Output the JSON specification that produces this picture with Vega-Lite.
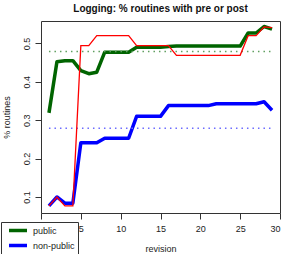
{
  "$schema": "https://vega.github.io/schema/vega-lite/v6.json",
  "width": 239,
  "height": 192,
  "autosize": {"type": "none"},
  "padding": {"left": 41, "top": 21, "right": 14, "bottom": 41},
  "background": "white",
  "config": {
    "font": "Liberation Sans",
    "view": {"stroke": "#333", "strokeWidth": 1},
    "axis": {"grid": false, "domain": false, "tickColor": "#333", "tickSize": 6, "labelFont": "Liberation Sans", "labelFontSize": 9, "labelColor": "#222", "titleFont": "Liberation Sans", "titleFontSize": 9, "titleFontWeight": "normal", "titleColor": "#222"}
  },
  "title": {"text": "Logging: % routines with pre or post", "fontSize": 10, "fontWeight": "bold", "font": "Liberation Sans", "anchor": "middle", "offset": 7, "color": "#111"},
  "datasets": {
    "lines": [
      {"rev": 1, "series": "public", "v": 0.319},
      {"rev": 2, "series": "public", "v": 0.452},
      {"rev": 3, "series": "public", "v": 0.455},
      {"rev": 4, "series": "public", "v": 0.455},
      {"rev": 5, "series": "public", "v": 0.429},
      {"rev": 6, "series": "public", "v": 0.421},
      {"rev": 7, "series": "public", "v": 0.425},
      {"rev": 8, "series": "public", "v": 0.477},
      {"rev": 9, "series": "public", "v": 0.477},
      {"rev": 10, "series": "public", "v": 0.477},
      {"rev": 11, "series": "public", "v": 0.477},
      {"rev": 12, "series": "public", "v": 0.490},
      {"rev": 13, "series": "public", "v": 0.490},
      {"rev": 14, "series": "public", "v": 0.490},
      {"rev": 15, "series": "public", "v": 0.490},
      {"rev": 16, "series": "public", "v": 0.492},
      {"rev": 17, "series": "public", "v": 0.493},
      {"rev": 18, "series": "public", "v": 0.493},
      {"rev": 19, "series": "public", "v": 0.493},
      {"rev": 20, "series": "public", "v": 0.493},
      {"rev": 21, "series": "public", "v": 0.493},
      {"rev": 22, "series": "public", "v": 0.493},
      {"rev": 23, "series": "public", "v": 0.493},
      {"rev": 24, "series": "public", "v": 0.493},
      {"rev": 25, "series": "public", "v": 0.493},
      {"rev": 26, "series": "public", "v": 0.527},
      {"rev": 27, "series": "public", "v": 0.527},
      {"rev": 28, "series": "public", "v": 0.544},
      {"rev": 29, "series": "public", "v": 0.537},
      {"rev": 1, "series": "non-public", "v": 0.077},
      {"rev": 2, "series": "non-public", "v": 0.100},
      {"rev": 3, "series": "non-public", "v": 0.084},
      {"rev": 4, "series": "non-public", "v": 0.084},
      {"rev": 5, "series": "non-public", "v": 0.241},
      {"rev": 6, "series": "non-public", "v": 0.241},
      {"rev": 7, "series": "non-public", "v": 0.241},
      {"rev": 8, "series": "non-public", "v": 0.253},
      {"rev": 9, "series": "non-public", "v": 0.253},
      {"rev": 10, "series": "non-public", "v": 0.253},
      {"rev": 11, "series": "non-public", "v": 0.253},
      {"rev": 12, "series": "non-public", "v": 0.310},
      {"rev": 13, "series": "non-public", "v": 0.310},
      {"rev": 14, "series": "non-public", "v": 0.310},
      {"rev": 15, "series": "non-public", "v": 0.310},
      {"rev": 16, "series": "non-public", "v": 0.338},
      {"rev": 17, "series": "non-public", "v": 0.338},
      {"rev": 18, "series": "non-public", "v": 0.338},
      {"rev": 19, "series": "non-public", "v": 0.338},
      {"rev": 20, "series": "non-public", "v": 0.338},
      {"rev": 21, "series": "non-public", "v": 0.338},
      {"rev": 22, "series": "non-public", "v": 0.343},
      {"rev": 23, "series": "non-public", "v": 0.343},
      {"rev": 24, "series": "non-public", "v": 0.343},
      {"rev": 25, "series": "non-public", "v": 0.343},
      {"rev": 26, "series": "non-public", "v": 0.343},
      {"rev": 27, "series": "non-public", "v": 0.343},
      {"rev": 28, "series": "non-public", "v": 0.348},
      {"rev": 29, "series": "non-public", "v": 0.326}
    ],
    "red": [
      {"rev": 1, "v": 0.077},
      {"rev": 2, "v": 0.100},
      {"rev": 3, "v": 0.077},
      {"rev": 4, "v": 0.077},
      {"rev": 5, "v": 0.494},
      {"rev": 6, "v": 0.494},
      {"rev": 7, "v": 0.520},
      {"rev": 8, "v": 0.520},
      {"rev": 9, "v": 0.520},
      {"rev": 10, "v": 0.520},
      {"rev": 11, "v": 0.520},
      {"rev": 12, "v": 0.494},
      {"rev": 13, "v": 0.494},
      {"rev": 14, "v": 0.494},
      {"rev": 15, "v": 0.494},
      {"rev": 16, "v": 0.494},
      {"rev": 17, "v": 0.469},
      {"rev": 18, "v": 0.469},
      {"rev": 19, "v": 0.469},
      {"rev": 20, "v": 0.469},
      {"rev": 21, "v": 0.469},
      {"rev": 22, "v": 0.469},
      {"rev": 23, "v": 0.469},
      {"rev": 24, "v": 0.469},
      {"rev": 25, "v": 0.469},
      {"rev": 26, "v": 0.520},
      {"rev": 27, "v": 0.520},
      {"rev": 28, "v": 0.543},
      {"rev": 29, "v": 0.541}
    ],
    "means": [
      {"series": "public", "v": 0.479, "rev": 1, "rev2": 29},
      {"series": "non-public", "v": 0.279, "rev": 1, "rev2": 29}
    ]
  },
  "encoding": {
    "x": {"field": "rev", "type": "quantitative", "scale": {"domain": [0, 30], "nice": false, "zero": false}, "axis": {"title": "revision", "values": [0, 5, 10, 15, 20, 25, 30], "labelExpr": "datum.value == 0 ? '' : datum.label", "labelPadding": 5, "titlePadding": 11}},
    "y": {"field": "v", "type": "quantitative", "scale": {"domain": [0.0583, 0.5583], "nice": false, "zero": false}, "axis": {"title": "% routines", "values": [0.1, 0.2, 0.3, 0.4, 0.5], "labelAngle": -90, "labelAlign": "center", "labelBaseline": "bottom", "labelPadding": 4, "titlePadding": 11}}
  },
  "layer": [
    {
      "data": {"name": "lines"},
      "mark": {"type": "line", "strokeWidth": 3.5, "strokeJoin": "round"},
      "encoding": {
        "color": {
          "field": "series", "type": "nominal",
          "scale": {"domain": ["public", "non-public"], "range": ["#006400", "#0000ff"]},
          "legend": {
            "title": null, "orient": "none", "legendX": -40, "legendY": 201,
            "symbolType": "M-0.15,0H5", "symbolSize": 49, "symbolStrokeWidth": 3.5,
            "labelFontSize": 9, "labelFont": "Liberation Sans", "labelColor": "#222",
            "strokeColor": "#333", "fillColor": "white", "padding": 3, "rowPadding": 0,
            "labelOffset": 18, "symbolOffset": 0
          }
        }
      }
    },
    {
      "data": {"name": "means"},
      "mark": {"type": "rule", "strokeWidth": 1.5, "strokeDash": [1.5, 4]},
      "encoding": {
        "x2": {"field": "rev2"},
        "color": {"field": "series", "type": "nominal", "scale": {"domain": ["public", "non-public"], "range": ["#5f9f5f", "#6b6bff"]}, "legend": null}
      }
    },
    {
      "data": {"name": "red"},
      "mark": {"type": "line", "strokeWidth": 1.3, "color": "#ff0000"}
    }
  ],
  "resolve": {"scale": {"color": "independent"}, "legend": {"color": "independent"}}
}
